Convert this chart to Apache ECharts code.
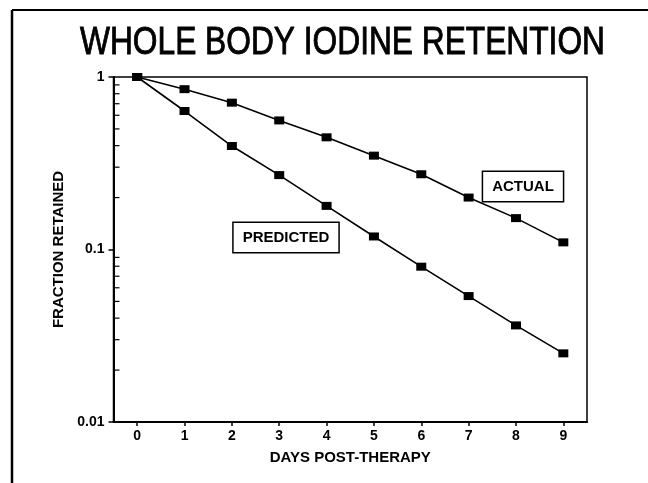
<!DOCTYPE html>
<html>
<head>
<meta charset="utf-8">
<script src="https://cdn.jsdelivr.net/npm/echarts@6/dist/echarts.min.js"></script>
<style>
html,body{margin:0;padding:0;background:#fff;}
#chart{width:648px;height:483px;}
</style>
</head>
<body>
<div id="chart"></div>
<script>
// ---- data ----
const days = ['0','1','2','3','4','5','6','7','8','9'];
const actual = [1, 0.85, 0.71, 0.56, 0.447, 0.35, 0.273, 0.20, 0.152, 0.11];
const predicted = [1, 0.635, 0.398, 0.27, 0.179, 0.119, 0.0795, 0.0537, 0.0363, 0.025];
const minorTickValues = [0.9,0.8,0.7,0.6,0.5,0.4,0.3,0.2,0.09,0.08,0.07,0.06,0.05,0.04,0.03,0.02];
const titleText = 'WHOLE BODY IODINE RETENTION';
const xName = 'DAYS POST-THERAPY';
const yName = 'FRACTION RETAINED';
const actualLabel = 'ACTUAL';
const predictedLabel = 'PREDICTED';

const FONT = '"Liberation Sans", Arial, Helvetica, sans-serif';
const chart = echarts.init(document.getElementById('chart'), null, {renderer:'canvas'});

const lineSeries = (name, data) => ({
  name, type:'line', data,
  symbol:'rect', symbolSize:[10,8],
  itemStyle:{color:'#000'},
  lineStyle:{color:'#000', width:1.6},
  silent:true, z:5
});

chart.setOption({
  backgroundColor:'#fff',
  animation:false,
  grid:{left:113.5, right:61, top:77, bottom:61, show:true, borderColor:'#000', borderWidth:1.5, backgroundColor:'transparent'},
  xAxis:{
    type:'category', data:days, boundaryGap:true,
    name:xName, nameLocation:'middle', nameGap:28,
    nameTextStyle:{fontFamily:FONT, fontWeight:'bold', fontSize:15, color:'#000'},
    axisLine:{lineStyle:{color:'#000', width:2}},
    axisTick:{show:true, alignWithLabel:true, length:4, lineStyle:{color:'#000', width:1.5}},
    axisLabel:{fontFamily:FONT, fontWeight:'bold', fontSize:14, color:'#000', margin:7},
    splitLine:{show:false}
  },
  yAxis:{
    type:'log', logBase:10, min:0.01, max:1,
    name:yName, nameLocation:'middle', nameGap:44, nameRotate:90,
    nameTextStyle:{fontFamily:FONT, fontWeight:'bold', fontSize:15, color:'#000'},
    axisLine:{show:true, lineStyle:{color:'#000', width:2}},
    axisTick:{show:true, inside:false, length:5, lineStyle:{color:'#000', width:1.5}},
    axisLabel:{fontFamily:FONT, fontWeight:'bold', fontSize:14, color:'#000', margin:9,
      formatter:(v)=>String(+v.toPrecision(3))},
    splitLine:{show:false},
    minorTick:{show:false}
  },
  series:[
    lineSeries(actualLabel, actual),
    lineSeries(predictedLabel, predicted),
    {
      type:'custom', silent:true, z:4,
      data: minorTickValues.map(v => [0, v]),
      encode:{x:0, y:1},
      renderItem:(params, api) => {
        const y = api.coord([0, api.value(1)])[1];
        const x0 = params.coordSys.x;
        return {type:'line', shape:{x1:x0, y1:y, x2:x0+6, y2:y}, style:{stroke:'#000', lineWidth:1.2}};
      }
    }
  ],
  graphic:[
    {type:'line', shape:{x1:12, y1:10, x2:648, y2:10}, style:{stroke:'#000', lineWidth:2}, silent:true},
    {type:'line', shape:{x1:12, y1:10, x2:12, y2:483}, style:{stroke:'#000', lineWidth:2.5}, silent:true},
    {type:'text', x:342.5, y:43, scaleX:0.813, silent:true,
     style:{text:titleText, font:'39px '+FONT, fill:'#000', stroke:'#000', lineWidth:0.9, align:'center', verticalAlign:'middle'}},
    {type:'text', x:523, y:186.5, silent:true, z:10,
     style:{text:actualLabel, font:'bold 15px '+FONT, fill:'#000', align:'center', verticalAlign:'middle',
       backgroundColor:'#fff', borderColor:'#000', borderWidth:1.5, padding:[6,9], lineHeight:17}},
    {type:'text', x:286, y:237.5, silent:true, z:10,
     style:{text:predictedLabel, font:'bold 15px '+FONT, fill:'#000', align:'center', verticalAlign:'middle',
       backgroundColor:'#fff', borderColor:'#000', borderWidth:1.5, padding:[6,9], lineHeight:17}}
  ]
});
</script>
</body>
</html>
